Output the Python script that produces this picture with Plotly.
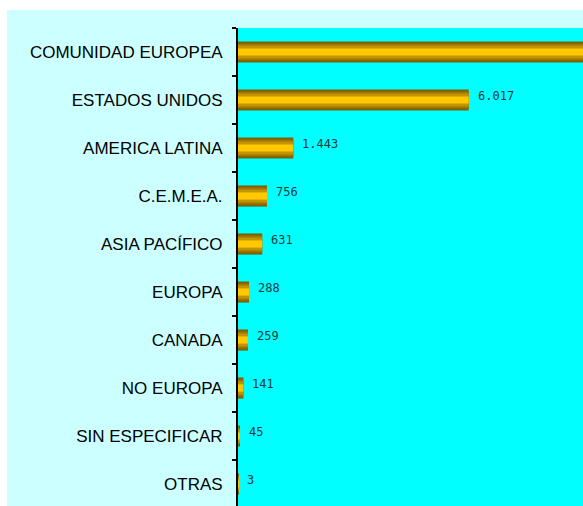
import plotly.graph_objects as go

categories = ["COMUNIDAD EUROPEA", "ESTADOS UNIDOS", "AMERICA LATINA", "C.E.M.E.A.",
              "ASIA PACÍFICO", "EUROPA", "CANADA", "NO EUROPA", "SIN ESPECIFICAR", "OTRAS"]
values = [16500, 6017, 1443, 756, 631, 288, 259, 141, 45, 3]
value_labels = ["16.500", "6.017", "1.443", "756", "631", "288", "259", "141", "45", "3"]

# stripe layers (outer -> inner) giving the cylinder shading
stripe_widths = [0.44, 0.355, 0.27, 0.15]
stripe_colors = ["#7F6000", "#9C7600", "#C39300", "#FFC800"]

fig = go.Figure()
for w, c in zip(stripe_widths, stripe_colors):
    fig.add_trace(go.Bar(
        x=values, y=categories, orientation="h", width=w,
        marker=dict(color=c, line=dict(width=0)),
        hoverinfo="skip", showlegend=False,
    ))

annotations = []
for v, c, t in zip(values, categories, value_labels):
    annotations.append(dict(
        x=v, y=c, xref="x", yref="y", text=t, showarrow=False,
        xanchor="left", yanchor="middle", xshift=7, yshift=4,
        font=dict(family="DejaVu Sans Mono", size=12, color="#123c3c"),
    ))

shapes = [
    dict(type="rect", xref="paper", yref="paper", x0=-0.6696, x1=1.0, y0=-0.05, y1=1.0377,
         fillcolor="#CCFFFF", line=dict(width=0), layer="below"),
    dict(type="rect", xref="paper", yref="paper", x0=0, x1=1.0, y0=-0.05, y1=1.0,
         fillcolor="#00FFFF", line=dict(width=0), layer="below"),
]

fig.update_layout(
    width=583, height=506,
    margin=dict(l=238, r=0, t=28, b=0, pad=0),
    paper_bgcolor="white", plot_bgcolor="#00FFFF",
    barmode="overlay",
    annotations=annotations,
    shapes=shapes,
    xaxis=dict(range=[0, 9000], visible=False, showgrid=False, zeroline=False),
    yaxis=dict(
        type="category", categoryorder="array", categoryarray=categories,
        range=[9.458, -0.5],
        showline=True, linecolor="black", linewidth=2,
        ticks="outside", tickson="boundaries", ticklen=4, tickwidth=2, tickcolor="black",
        showgrid=False, zeroline=False,
        tickfont=dict(family="Liberation Sans, Arial", size=17, color="black"),
        ticklabelstandoff=10,
    ),
)

fig.write_html(
    "out.html",
    config={"displayModeBar": False},
    post_script="document.body.style.margin='0';document.body.style.overflow='hidden';",
)
